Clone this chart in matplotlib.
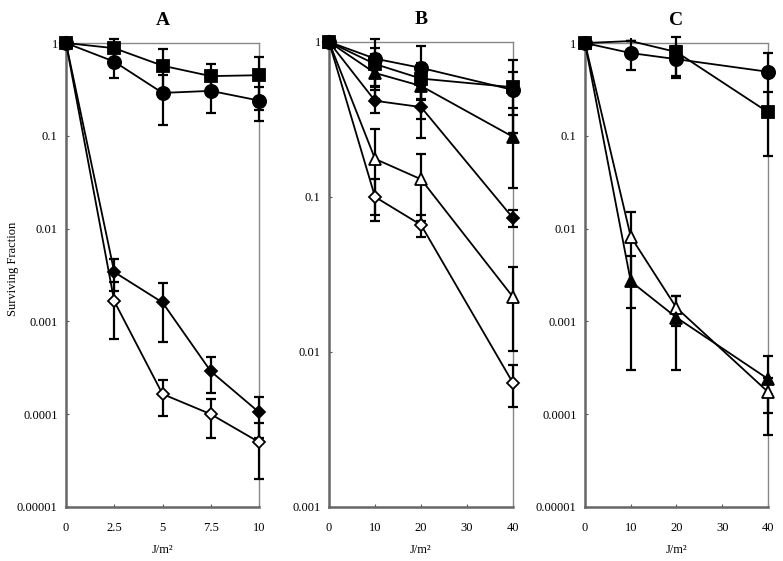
import matplotlib
matplotlib.use('Agg')
import matplotlib.pyplot as plt

plt.rcParams['font.family'] = ['Liberation Serif', 'DejaVu Serif']

# panel A
dose_a = [0, 2.5, 5, 7.5, 10]
a_square = [1, 0.88, 0.57, 0.44, 0.45]
a_square_err = [0, 0.22, 0.30, 0.15, 0.26]
a_circle = [1, 0.63, 0.29, 0.305, 0.24]
a_circle_err = [0, 0.21, 0.16, 0.13, 0.095]
a_fdiam = [1, 0.0034, 0.0016, 0.00029, 0.000105]
a_fdiam_err = [0, 0.0013, 0.001, 0.00012, 0.00005]
a_odiam = [1, 0.00165, 0.000165, 0.0001, 0.00005]
a_odiam_err = [0, 0.001, 0.00007, 0.000045, 0.00003]

# panel B
dose_b = [0, 10, 20, 40]
b_circle = [1, 0.78, 0.68, 0.49]
b_circle_err = [0, 0.27, 0.26, 0.15]
b_square = [1, 0.72, 0.58, 0.51]
b_square_err = [0, 0.2, 0.15, 0.25]
b_ftri = [1, 0.63, 0.52, 0.244]
b_ftri_err = [0, 0.2, 0.2, 0.13]
b_fdiam = [1, 0.417, 0.38, 0.073]
b_fdiam_err = [0, 0.07, 0.14, 0.009]
b_otri = [1, 0.176, 0.13, 0.0226]
b_otri_err = [0, 0.1, 0.06, 0.0125]
b_odiam = [1, 0.1, 0.066, 0.0063]
b_odiam_err = [0, 0.03, 0.011, 0.0019]

# panel C
dose_c = [0, 10, 20, 40]
c_circle = [1, 0.78, 0.67, 0.49]
c_circle_err = [0, 0.27, 0.25, 0.29]
c_square = [1, 1.05, 0.8, 0.18]
c_square_err = [0, 0, 0.36, 0.12]
c_otri = [1, 0.0082, 0.0014, 0.000174]
c_otri_err = [0, 0.0068, 0.0005, 0.00007]
c_ftri = [1, 0.0027, 0.0011, 0.00024]
c_ftri_err = [0, 0.0024, 0.0008, 0.00018]

ytick_a = [1, 0.1, 0.01, 0.001, 0.0001, 0.00001]
ytick_a_labels = ['1', '0.1', '0.01', '0.001', '0.0001', '0.00001']
ytick_b = [1, 0.1, 0.01, 0.001]
ytick_b_labels = ['1', '0.1', '0.01', '0.001']


def series(ax, x, y, err, marker, filled=True, ms=8, hide=None):
    ax.errorbar(x, y, yerr=err, fmt='none', ecolor='black', elinewidth=1.6,
                capsize=3.5, capthick=1.6, clip_on=False, zorder=3)
    face = 'black' if filled else 'white'
    every = [i for i in range(len(x)) if i != hide]
    ax.plot(x, y, color='black', lw=1.3, marker=marker, ms=ms,
            markerfacecolor=face, markeredgecolor='black', markeredgewidth=1.3,
            markevery=every, clip_on=False, zorder=4)
    if hide is not None:
        ax.plot([x[hide]], [y[hide]], marker='+', ms=5, color='black',
                mew=1.5, clip_on=False, zorder=4)


def style(ax, xticks, xlabels, yticks, ylabels, title):
    ax.set_yscale('log')
    ax.set_ylim(yticks[-1], 1)
    ax.set_xlim(xticks[0], xticks[-1])
    ax.set_xticks(xticks)
    ax.set_xticklabels(xlabels)
    ax.set_yticks(yticks)
    ax.set_yticklabels(ylabels)
    ax.minorticks_off()
    ax.tick_params(labelsize=9, length=2.5, direction='in', color='#555555', pad=6)
    ax.tick_params(axis='x', pad=11)
    for s in ['top', 'right']:
        ax.spines[s].set_linestyle((0, (1, 1)))
        ax.spines[s].set_color('#888888')
        ax.spines[s].set_linewidth(1.0)
    for s in ['left', 'bottom']:
        ax.spines[s].set_color('#666666')
        ax.spines[s].set_linewidth(1.8)
    ax.set_xlabel('J/m²', fontsize=9, labelpad=7)
    ax.set_title(title, fontsize=14, fontweight='bold', pad=13)


fig = plt.figure(figsize=(7.83, 5.61), dpi=100)
ax_a = fig.add_axes([0.0843, 0.0963, 0.2465, 0.827])
ax_b = fig.add_axes([0.4202, 0.0963, 0.235, 0.829])
ax_c = fig.add_axes([0.7471, 0.0963, 0.2337, 0.827])

series(ax_a, dose_a, a_odiam, a_odiam_err, 'D', filled=False, ms=6.5)
series(ax_a, dose_a, a_fdiam, a_fdiam_err, 'D', ms=6.5)
series(ax_a, dose_a, a_circle, a_circle_err, 'o', ms=9.5)
series(ax_a, dose_a, a_square, a_square_err, 's', ms=9)
style(ax_a, [0, 2.5, 5, 7.5, 10], ['0', '2.5', '5', '7.5', '10'],
      ytick_a, ytick_a_labels, 'A')

series(ax_b, dose_b, b_odiam, b_odiam_err, 'D', filled=False, ms=6.5)
series(ax_b, dose_b, b_otri, b_otri_err, '^', filled=False, ms=8.5)
series(ax_b, dose_b, b_fdiam, b_fdiam_err, 'D', ms=6.5)
series(ax_b, dose_b, b_ftri, b_ftri_err, '^', ms=8.5)
series(ax_b, dose_b, b_square, b_square_err, 's', ms=9)
series(ax_b, dose_b, b_circle, b_circle_err, 'o', ms=9.5)
style(ax_b, [0, 10, 20, 30, 40], ['0', '10', '20', '30', '40'],
      ytick_b, ytick_b_labels, 'B')

series(ax_c, dose_c, c_otri, c_otri_err, '^', filled=False, ms=8.5)
series(ax_c, dose_c, c_ftri, c_ftri_err, '^', ms=8.5)
series(ax_c, dose_c, c_circle, c_circle_err, 'o', ms=9.5)
series(ax_c, dose_c, c_square, c_square_err, 's', ms=9, hide=1)
style(ax_c, [0, 10, 20, 30, 40], ['0', '10', '20', '30', '40'],
      ytick_a, ytick_a_labels, 'C')

fig.text(0.016, 0.52, 'Surviving Fraction', rotation=90, fontsize=9,
         ha='center', va='center')

fig.savefig('out.png', dpi=100)
